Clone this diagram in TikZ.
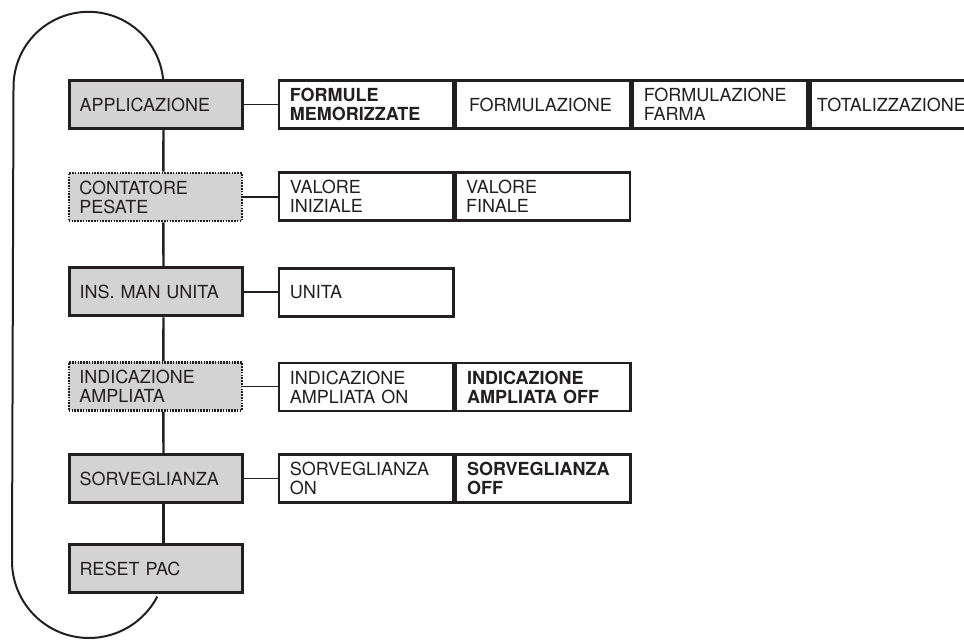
\documentclass[tikz,border=0pt]{standalone}
\usepackage{fontspec}
\setmainfont{TeX Gyre Heros}
\definecolor{ink}{RGB}{35,31,32}
\definecolor{boxgray}{RGB}{211,211,211}
\begin{document}
\begin{tikzpicture}[x=1pt,y=1pt,
  font=\fontsize{18}{19}\selectfont,
  menu/.style={draw=ink, line width=3pt, fill=boxgray, minimum height=48pt,
    inner xsep=10.5pt, inner ysep=0pt, text width=152pt, align=left, text=ink, anchor=west},
  menudot/.style={menu, line width=2.6pt, dash pattern=on 1.6pt off 1.2pt},
  opt/.style={draw=ink, line width=2.7pt, fill=white, minimum height=48pt,
    inner xsep=11pt, inner ysep=0pt, text width=152.5pt, align=left, text=ink, anchor=west},
  vlink/.style={draw=ink, line width=2.4pt},
  hlink/.style={draw=ink, line width=1.7pt},
  loopline/.style={draw=ink, line width=2pt},
  boldtext/.style={font=\fontsize{18}{19}\selectfont\bfseries}
]
\useasboundingbox (0,0) rectangle (964,640);

% left menu column
\node[menu]    (app)  at (67.5,535.5) {APPLICAZIONE};
\node[menudot] (cont) at (67.5,443)   {CONTATORE\\PESATE};
\node[menu]    (ins)  at (67.5,348)   {INS. MAN UNITA};
\node[menudot] (ind)  at (67.5,253.5) {INDICAZIONE\\AMPLIATA};
\node[menu]    (sor)  at (67.5,161.5) {SORVEGLIANZA};
\node[menu]    (res)  at (67.5,71)    {RESET PAC};

% row 1
\node[opt, boldtext] (fm) at (277.5,535.5) {FORMULE\\MEMORIZZATE};
\node[opt, inner xsep=13pt, text width=148pt] (fo) at (fm.east) {FORMULAZIONE};
\node[opt, text width=153pt] (ff) at (fo.east) {FORMULAZIONE\\FARMA};
\node[opt, inner xsep=6.5pt, text width=151pt] (tot) at (ff.east) {TOTALIZZAZIONE};

% row 2
\node[opt] (vi) at (277.5,443.5) {VALORE\\INIZIALE};
\node[opt, inner xsep=10pt, text width=154pt] (vf) at (vi.east) {VALORE\\FINALE};

% row 3
\node[opt] (un) at (277.5,347.5) {UNITA};

% row 4
\node[opt] (ion) at (277.5,253) {INDICAZIONE\\AMPLIATA ON};
\node[opt, boldtext] (ioff) at (ion.east) {INDICAZIONE\\AMPLIATA OFF};

% row 5
\node[opt] (son) at (277.5,161.5) {SORVEGLIANZA\\ON};
\node[opt, boldtext] (soff) at (son.east) {SORVEGLIANZA\\OFF};

% vertical links
\draw[vlink] ([xshift=8pt]app.south) -- ([xshift=8pt]cont.north);
\draw[vlink] ([xshift=8pt]cont.south) -- ([xshift=8pt]ins.north);
\draw[vlink] ([xshift=8pt]ins.south) -- ([xshift=8pt]ind.north);
\draw[vlink] ([xshift=8pt]ind.south) -- ([xshift=8pt]sor.north);
\draw[vlink] ([xshift=8pt]sor.south) -- ([xshift=8pt]res.north);

% horizontal links
\draw[hlink] (app.east) -- (fm.west);
\draw[hlink] (cont.east) -- (vi.west |- cont.east);
\draw[hlink] (ins.east) -- (un.west |- ins.east);
\draw[hlink] (ind.east) -- (ion.west |- ind.east);
\draw[hlink] (sor.east) -- (son.west);

% return loop
\draw[loopline] ([xshift=7.6pt]app.north) arc[start angle=6, end angle=180, radius=75]
  -- (12,79) arc[start angle=180, end angle=332.5, radius=77];
\end{tikzpicture}
\end{document}
